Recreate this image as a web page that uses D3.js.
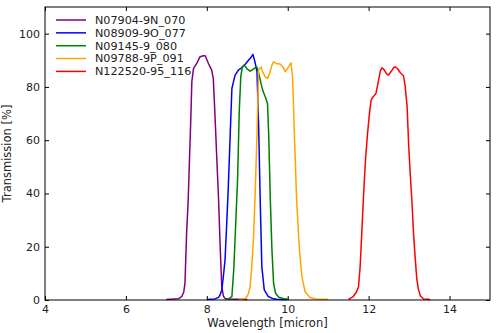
<!DOCTYPE html>
<html>
<head>
<meta charset="utf-8">
<script src="https://cdn.jsdelivr.net/npm/d3@7"></script>
<style>
  html, body { margin: 0; padding: 0; background: #fff; }
  svg { display: block; }
  text { font-family: "DejaVu Sans", sans-serif; fill: #222; }
</style>
</head>
<body>
<svg id="chart" width="500" height="333"></svg>
<script>
// Filter transmission curves (wavelength in micron, transmission in %)
const seriesNames = ["N07904-9N_070", "N08909-9O_077", "N09145-9_080", "N09788-9P_091", "N122520-95_116"];
const seriesColors = ["#800080", "#0000ff", "#008000", "#ffa500", "#ff0000"];

const wl070 = [7.00, 7.30, 7.38, 7.43, 7.46, 7.50, 7.54, 7.57, 7.60, 7.63, 7.67, 7.75, 7.83, 7.92, 7.96, 8.04, 8.12, 8.16, 8.20, 8.25, 8.29, 8.33, 8.37, 8.41, 8.45, 8.55, 8.75, 9.00];
const tr070 = [0.2, 0.5, 1.3, 3, 6.3, 25, 37.5, 52, 66, 82, 86.9, 88.8, 91.3, 91.7, 91.7, 88.8, 86.3, 83.2, 70, 52, 38, 20, 5, 1.5, 0.6, 0.4, 0.3, 0.2];

const wl077 = [8.00, 8.20, 8.29, 8.33, 8.37, 8.41, 8.45, 8.49, 8.53, 8.58, 8.62, 8.66, 8.70, 8.78, 8.86, 8.95, 9.03, 9.09, 9.14, 9.19, 9.24, 9.28, 9.32, 9.36, 9.42, 9.52, 9.62, 9.73, 9.85, 9.98];
const tr077 = [0.2, 0.4, 1, 2, 3.8, 9, 15, 28, 42, 63, 79.4, 82, 84.4, 86.3, 87.2, 88.5, 90, 91, 92.2, 89.4, 85.7, 65.7, 37.5, 12.5, 3.8, 1.3, 0.6, 0.3, 0.2, 0.2];

const wl080 = [8.45, 8.55, 8.62, 8.67, 8.72, 8.76, 8.80, 8.84, 8.88, 8.92, 8.96, 9.00, 9.07, 9.15, 9.20, 9.24, 9.30, 9.36, 9.40, 9.44, 9.50, 9.53, 9.57, 9.61, 9.65, 9.70, 9.78, 9.90, 10.02];
const tr080 = [0.3, 0.6, 1.3, 12.5, 31, 45, 70, 84, 87.5, 88.2, 87.5, 86.7, 85.9, 86.7, 87.3, 87.5, 84, 80, 78, 76.5, 73.8, 62, 37.5, 18.8, 6.3, 2.5, 1, 0.5, 0.3];

const wl091 = [8.78, 8.90, 8.95, 9.00, 9.03, 9.07, 9.11, 9.15, 9.19, 9.24, 9.28, 9.34, 9.38, 9.44, 9.50, 9.55, 9.61, 9.65, 9.71, 9.81, 9.88, 9.94, 10.02, 10.08, 10.12, 10.17, 10.22, 10.29, 10.35, 10.43, 10.55, 10.70, 11.00];
const tr091 = [0.2, 0.4, 0.6, 1.5, 2.5, 5, 12.5, 22, 37.5, 62, 86.3, 87.5, 85.7, 83.8, 83.2, 85, 88.2, 89.4, 88.8, 88.6, 87.5, 85.7, 87.5, 89, 83.8, 60, 37.5, 18.8, 8.8, 3.1, 0.9, 0.4, 0.3];

const wl116 = [11.50, 11.62, 11.70, 11.75, 11.79, 11.83, 11.87, 11.92, 11.97, 12.02, 12.06, 12.10, 12.15, 12.18, 12.24, 12.29, 12.33, 12.39, 12.44, 12.49, 12.54, 12.58, 12.62, 12.66, 12.71, 12.78, 12.86, 12.90, 12.95, 12.99, 13.03, 13.07, 13.11, 13.15, 13.19, 13.23, 13.28, 13.36, 13.52];
const tr116 = [0.2, 1.3, 3, 5, 12.5, 25, 38, 52, 62, 70, 75, 76, 77, 77.5, 82, 86, 87.2, 86.3, 85, 84.4, 85.5, 86.3, 87.3, 87.5, 86.9, 85.4, 84.2, 80.7, 73, 58, 47, 37, 25, 16, 8, 4, 1.5, 0.4, 0.2];

const xTicks = [4, 6, 8, 10, 12, 14];
const yTicks = [0, 20, 40, 60, 80, 100];

const wavelengths = [wl070, wl077, wl080, wl091, wl116];
const transmissions = [tr070, tr077, tr080, tr091, tr116];
const series = seriesNames.map((name, i) => ({
  name,
  color: seriesColors[i],
  points: wavelengths[i].map((w, j) => [w, transmissions[i][j]])
}));

const svg = d3.select("#chart");
const plotLeft = 45, plotRight = 490, plotTop = 7, plotBottom = 300;

const x = d3.scaleLinear().domain([4, 15]).range([plotLeft, plotRight]);
const y = d3.scaleLinear().domain([0, 110]).range([plotBottom, plotTop]);

const plot = svg.append("g");

// curves
const line = d3.line().x(d => x(d[0])).y(d => y(d[1]));
plot.selectAll("path.curve")
  .data(series)
  .join("path")
  .attr("class", "curve")
  .attr("d", d => line(d.points))
  .attr("fill", "none")
  .attr("stroke", d => d.color)
  .attr("stroke-width", 1.5)
  .attr("stroke-linejoin", "round");

// axes with inward ticks on all four sides
function styleAxis(g) {
  g.select(".domain").remove();
  g.selectAll(".tick line").attr("stroke", "#000").attr("stroke-width", 1);
  g.selectAll(".tick text").attr("font-size", 11).attr("fill", "#222")
    .attr("font-family", "DejaVu Sans, sans-serif");
}

svg.append("g").attr("transform", `translate(0,${plotBottom})`)
  .call(d3.axisBottom(x).tickValues(xTicks).tickFormat(d3.format("d"))
    .tickSizeInner(-4).tickSizeOuter(0).tickPadding(5))
  .call(styleAxis);

svg.append("g").attr("transform", `translate(0,${plotTop})`)
  .call(d3.axisTop(x).tickValues(xTicks).tickFormat("")
    .tickSizeInner(-4).tickSizeOuter(0))
  .call(styleAxis);

svg.append("g").attr("transform", `translate(${plotLeft},0)`)
  .call(d3.axisLeft(y).tickValues(yTicks).tickFormat(d3.format("d"))
    .tickSizeInner(-4).tickSizeOuter(0).tickPadding(5))
  .call(styleAxis);

svg.append("g").attr("transform", `translate(${plotRight},0)`)
  .call(d3.axisRight(y).tickValues(yTicks).tickFormat("")
    .tickSizeInner(-4).tickSizeOuter(0))
  .call(styleAxis);

// frame
svg.append("rect")
  .attr("x", plotLeft).attr("y", plotTop)
  .attr("width", plotRight - plotLeft).attr("height", plotBottom - plotTop)
  .attr("fill", "none").attr("stroke", "#000").attr("stroke-width", 1);

// axis titles
svg.append("text")
  .attr("x", (plotLeft + plotRight) / 2).attr("y", 327)
  .attr("text-anchor", "middle").attr("font-size", 11.5)
  .text("Wavelength [micron]");

svg.append("text")
  .attr("transform", `translate(11,${(plotTop + plotBottom) / 2}) rotate(-90)`)
  .attr("text-anchor", "middle").attr("font-size", 11.5)
  .text("Transmission [%]");

// legend
const legend = svg.append("g");
const rows = legend.selectAll("g").data(series).join("g")
  .attr("transform", (d, i) => `translate(0,${20 + i * 12.85})`);
rows.append("line")
  .attr("x1", 56).attr("x2", 86).attr("y1", 0).attr("y2", 0)
  .attr("stroke", d => d.color).attr("stroke-width", 1.5);
rows.append("text")
  .attr("x", 95).attr("y", 0).attr("dy", "0.35em")
  .attr("font-size", 11.2)
  .text(d => d.name);
</script>
</body>
</html>
